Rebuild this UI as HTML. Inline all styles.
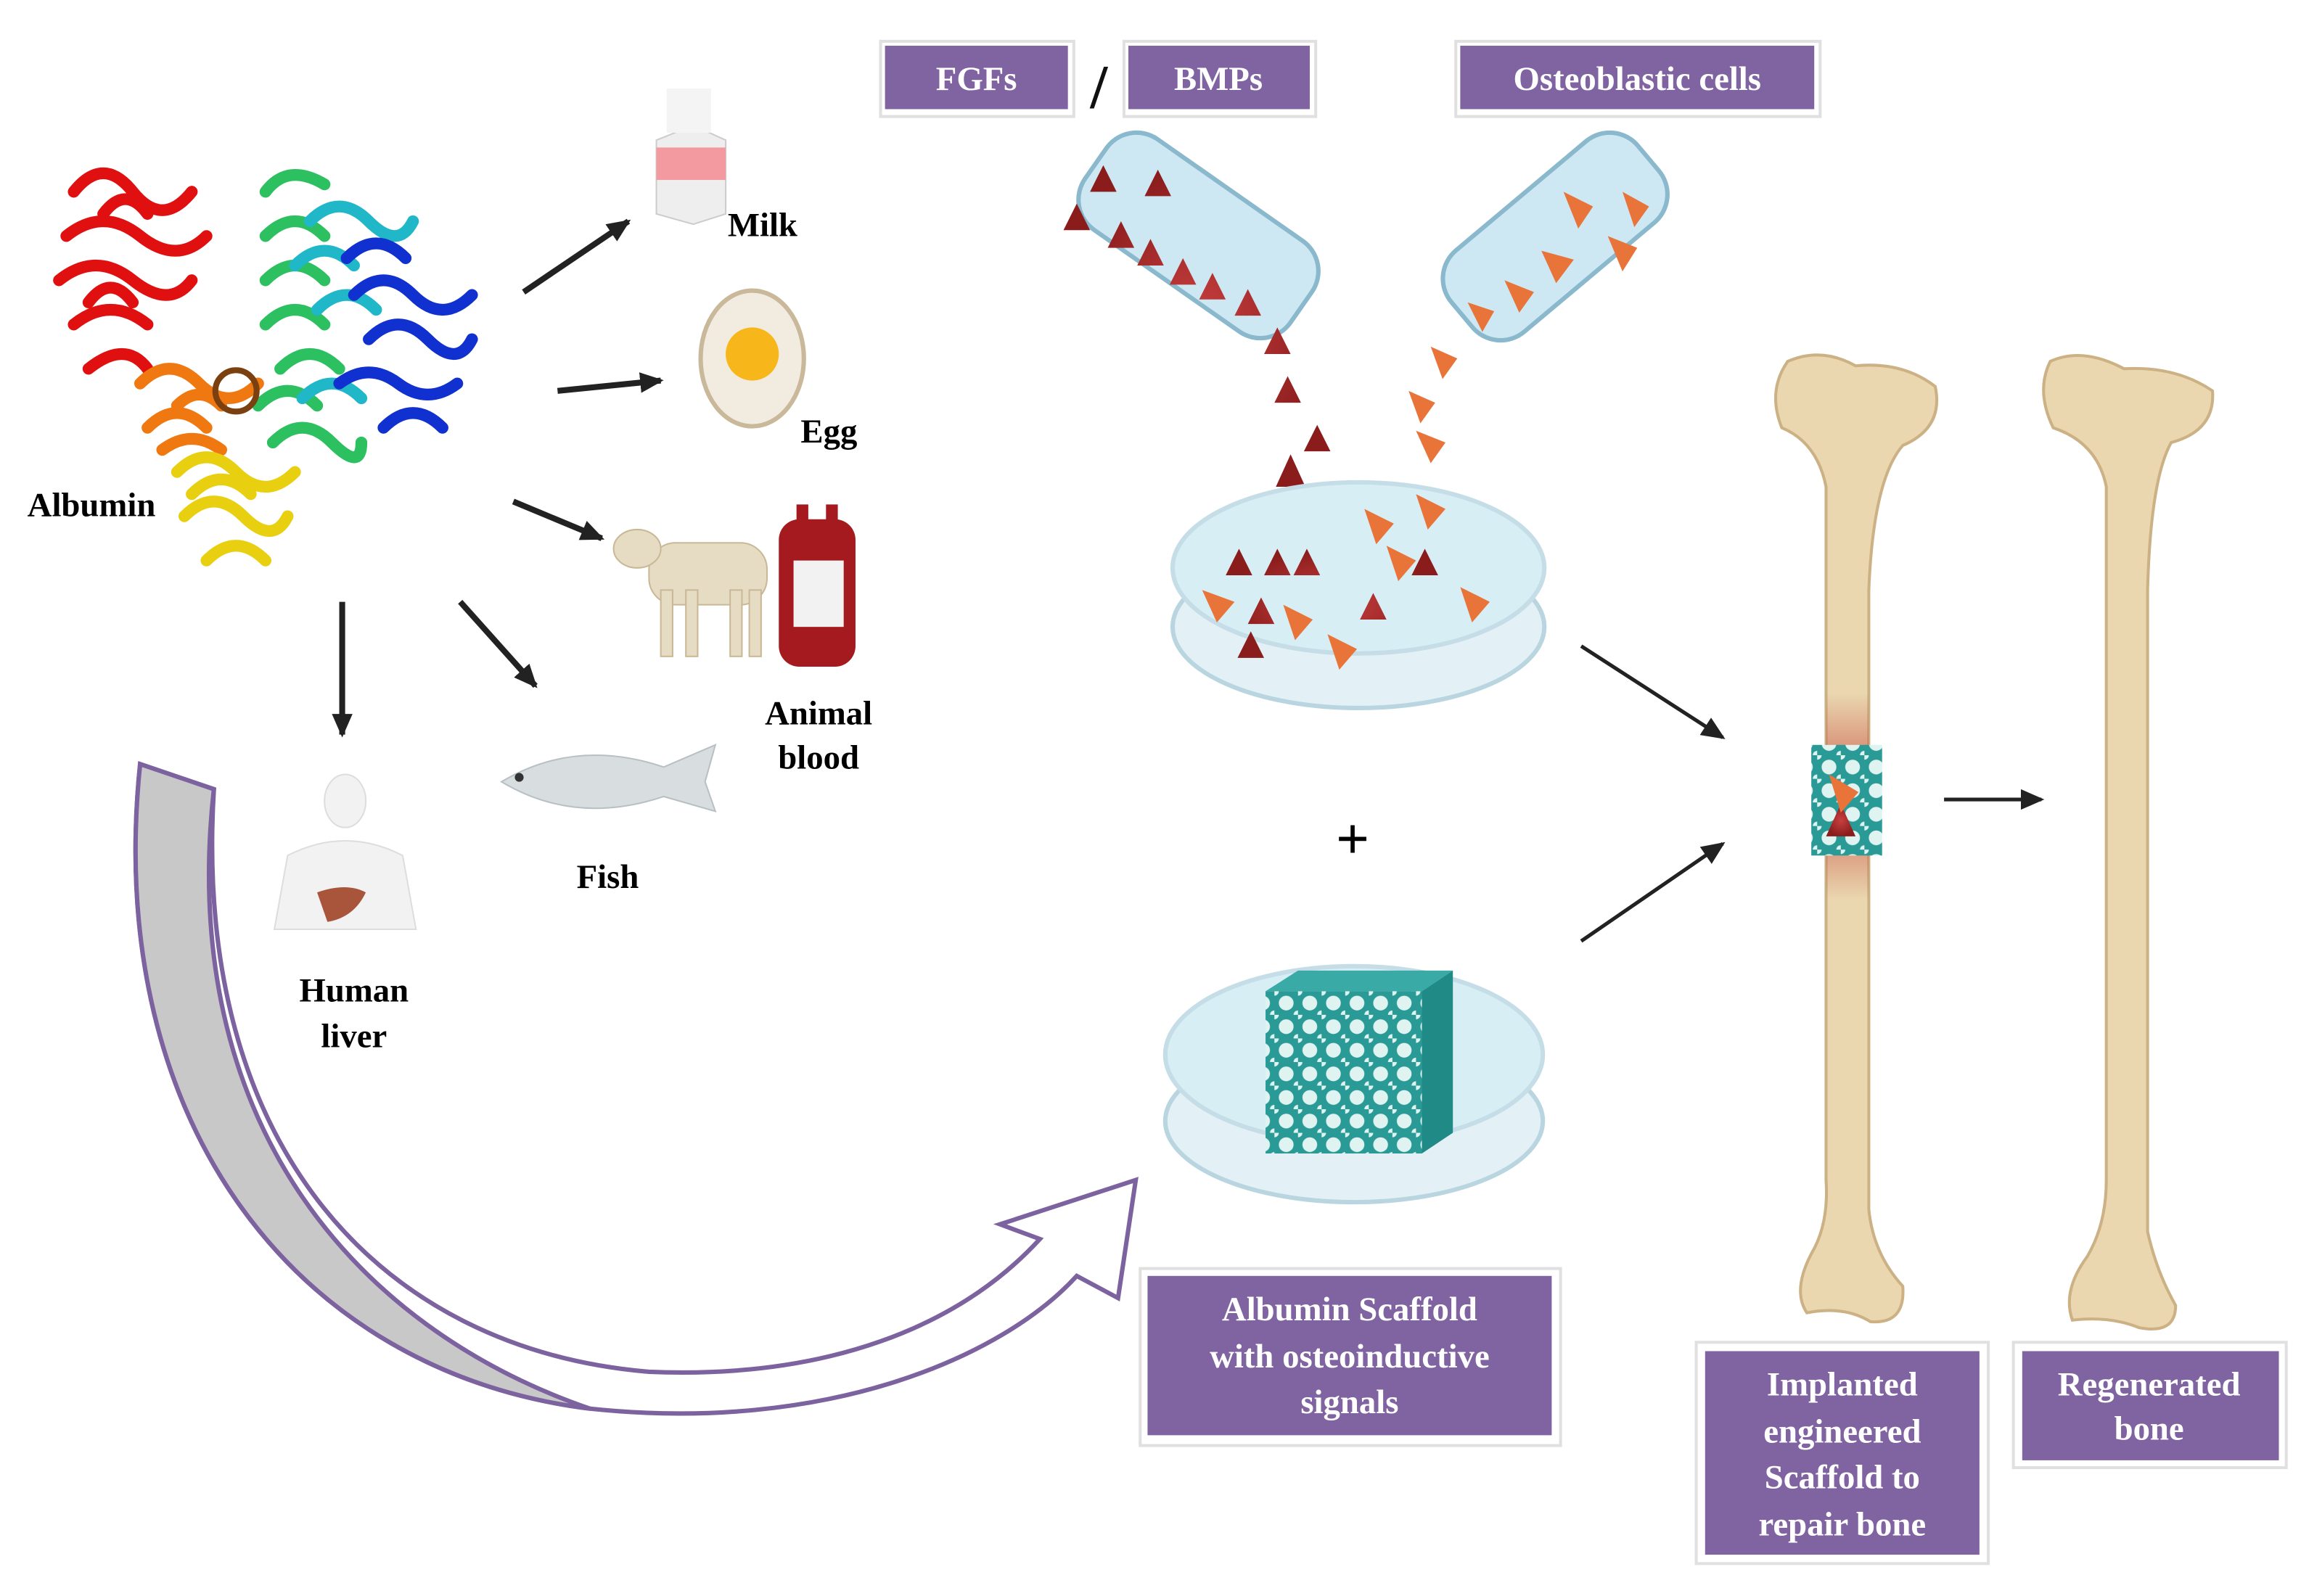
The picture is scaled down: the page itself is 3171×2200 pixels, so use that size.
<!DOCTYPE html>
<html><head><meta charset="utf-8"><style>
html,body{margin:0;padding:0;background:#fff}
svg{display:block}
text{font-family:"Liberation Serif",serif;font-weight:bold}
</style></head><body>
<svg width="3171" height="2200" viewBox="0 0 1560 1082" preserveAspectRatio="none" xmlns="http://www.w3.org/2000/svg">
<defs>
<marker id="ah2" markerWidth="16" markerHeight="14" refX="14" refY="7" orient="auto" markerUnits="userSpaceOnUse"><path d="M0,0 L16,7 L0,14 Z" fill="#222"/></marker>
<pattern id="foam" width="16" height="16" patternUnits="userSpaceOnUse"><rect width="16" height="16" fill="#2a9a96"/><circle cx="8" cy="8" r="5" fill="#dff3f1"/><circle cx="0" cy="0" r="3" fill="#dff3f1"/><circle cx="16" cy="16" r="3" fill="#dff3f1"/></pattern>
<radialGradient id="tri"><stop offset="0" stop-color="#c94040"/><stop offset="1" stop-color="#8a1c1c"/></radialGradient>
<linearGradient id="frac" x1="0" y1="0" x2="0" y2="1"><stop offset="0" stop-color="#c0322a" stop-opacity="0"/><stop offset="0.3" stop-color="#c0322a" stop-opacity="0.45"/><stop offset="0.7" stop-color="#c0322a" stop-opacity="0.45"/><stop offset="1" stop-color="#c0322a" stop-opacity="0"/></linearGradient>
</defs>

<!-- Protein blob -->
<g stroke-width="8" fill="none" stroke-linecap="round">
<path d="M50,130 q20,-25 40,0 t40,0 M45,160 q25,-20 50,0 t45,0 M40,190 q25,-20 50,0 t40,0 M50,220 q25,-20 50,0 M60,250 q25,-20 40,0 M70,145 q15,-20 30,0 M60,205 q15,-20 30,0" stroke="#e01010"/>
<path d="M95,260 q20,-20 40,0 t40,0 M100,290 q20,-20 40,0 M120,275 q15,-15 30,0 M110,305 q20,-15 40,0" stroke="#f07810"/>
<path d="M120,320 q20,-20 40,0 t40,0 M125,350 q20,-20 40,0 t30,0 M140,380 q20,-20 40,0 M130,335 q20,-20 40,0" stroke="#e8d010"/>
<path d="M180,130 q15,-20 40,-5 M180,160 q20,-20 40,0 M180,190 q20,-20 40,0 M190,250 q20,-20 40,0 M185,300 q20,-20 40,0 t20,0 M180,220 q20,-20 40,0 M175,275 q20,-20 40,0" stroke="#2cc060"/>
<path d="M210,150 q20,-20 40,0 t30,0 M215,210 q20,-20 40,0 M205,270 q20,-20 40,0 M200,180 q20,-20 40,0" stroke="#20b8c8"/>
<path d="M240,200 q20,-20 40,0 t40,0 M250,230 q20,-20 40,0 t30,0 M230,260 q20,-15 40,0 t40,0 M260,290 q20,-20 40,0 M235,175 q20,-20 40,0" stroke="#1030d0"/>
<circle cx="160" cy="265" r="14" stroke="#7a4010" stroke-width="4"/>
</g>
<text x="62" y="350" font-size="23" text-anchor="middle">Albumin</text>

<!-- Arrows left -->
<g stroke="#222" stroke-width="4">
<line x1="355" y1="198" x2="426" y2="150" marker-end="url(#ah2)"/>
<line x1="378" y1="265" x2="448" y2="258" marker-end="url(#ah2)"/>
<line x1="348" y1="340" x2="408" y2="365" marker-end="url(#ah2)"/>
<line x1="312" y1="408" x2="363" y2="465" marker-end="url(#ah2)"/>
<line x1="232" y1="408" x2="232" y2="498" marker-end="url(#ah2)"/>
</g>

<!-- Milk carton -->
<path d="M445,95 L470,85 L492,95 L492,145 L470,152 L445,145 Z" fill="#eee" stroke="#ccc"/>
<rect x="445" y="100" width="47" height="22" fill="#f29aa0"/>
<rect x="452" y="60" width="30" height="30" fill="#f4f4f4"/>
<text x="517" y="160" font-size="23" text-anchor="middle">Milk</text>
<!-- Egg -->
<ellipse cx="510" cy="243" rx="35" ry="46" fill="#f2ebe0" stroke="#c9b89a" stroke-width="3"/>
<circle cx="510" cy="240" r="18" fill="#f7b61a"/>
<text x="562" y="300" font-size="23" text-anchor="middle">Egg</text>
<!-- Calf -->
<g fill="#e6dcc4" stroke="#c8b896">
<rect x="440" y="368" width="80" height="42" rx="18"/>
<ellipse cx="432" cy="372" rx="16" ry="13"/>
<rect x="448" y="400" width="8" height="45"/><rect x="465" y="400" width="8" height="45"/><rect x="495" y="400" width="8" height="45"/><rect x="508" y="400" width="8" height="45"/>
</g>
<!-- Blood bag -->
<rect x="528" y="352" width="52" height="100" rx="14" fill="#a51a1f"/>
<rect x="538" y="380" width="34" height="45" fill="#f2f2f2"/>
<rect x="540" y="342" width="8" height="14" fill="#a51a1f"/><rect x="560" y="342" width="8" height="14" fill="#a51a1f"/>
<text x="555" y="491" font-size="23" text-anchor="middle">Animal</text>
<text x="555" y="521" font-size="23" text-anchor="middle">blood</text>
<!-- Fish -->
<path d="M340,530 Q390,500 450,520 L485,505 L478,530 L485,550 L450,540 Q390,560 340,530 Z" fill="#d8dde0" stroke="#b8c0c4"/>
<circle cx="352" cy="527" r="3" fill="#333"/>
<text x="412" y="602" font-size="23" text-anchor="middle">Fish</text>
<!-- Human -->
<g fill="#f2f2f2" stroke="#ddd">
<ellipse cx="234" cy="543" rx="14" ry="18"/>
<path d="M195,580 Q234,560 273,580 L282,630 L186,630 Z"/>
</g>
<path d="M215,605 Q235,598 248,605 Q240,622 222,625 Z" fill="#a8553b"/>
<text x="240" y="679" font-size="23" text-anchor="middle">Human</text>
<text x="240" y="710" font-size="23" text-anchor="middle">liver</text>

<!-- Big curved arrow -->
<path d="M95,518 C70,760 200,930 400,955 C560,972 680,920 730,865 L758,880 L770,800 L678,830 L705,840 C650,900 560,935 440,930 C260,915 130,780 145,535 Z" fill="#fff" stroke="#7d62a0" stroke-width="3"/>
<path d="M95,518 C70,760 200,930 400,955 C240,900 120,760 145,535 Z" fill="#c8c8c8" stroke="#7d62a0" stroke-width="3"/>

<!-- Label boxes -->
<g>
<rect x="597" y="28" width="131" height="51" fill="#fff" stroke="#e0e0e0" stroke-width="2"/>
<rect x="600" y="31" width="124" height="43" fill="#8064a2"/>
<text x="662" y="61" font-size="23" fill="#fff" text-anchor="middle">FGFs</text>
<text x="745" y="73" font-size="42" fill="#111" text-anchor="middle">/</text>
<rect x="762" y="28" width="130" height="51" fill="#fff" stroke="#e0e0e0" stroke-width="2"/>
<rect x="765" y="31" width="123" height="43" fill="#8064a2"/>
<text x="826" y="61" font-size="23" fill="#fff" text-anchor="middle">BMPs</text>
<rect x="987" y="28" width="247" height="51" fill="#fff" stroke="#e0e0e0" stroke-width="2"/>
<rect x="990" y="31" width="240" height="43" fill="#8064a2"/>
<text x="1110" y="61" font-size="23" fill="#fff" text-anchor="middle">Osteoblastic cells</text>

<rect x="773" y="860" width="285" height="120" fill="#fff" stroke="#e0e0e0" stroke-width="2"/>
<rect x="778" y="865" width="274" height="108" fill="#8064a2"/>
<text x="915" y="895" font-size="23" fill="#fff" text-anchor="middle">Albumin Scaffold</text>
<text x="915" y="927" font-size="23" fill="#fff" text-anchor="middle">with osteoinductive</text>
<text x="915" y="958" font-size="23" fill="#fff" text-anchor="middle">signals</text>

<rect x="1150" y="910" width="198" height="150" fill="#fff" stroke="#e0e0e0" stroke-width="2"/>
<rect x="1156" y="916" width="186" height="138" fill="#8064a2"/>
<text x="1249" y="946" font-size="23" fill="#fff" text-anchor="middle">Implanted</text>
<text x="1249" y="978" font-size="23" fill="#fff" text-anchor="middle">engineered</text>
<text x="1249" y="1009" font-size="23" fill="#fff" text-anchor="middle">Scaffold to</text>
<text x="1249" y="1041" font-size="23" fill="#fff" text-anchor="middle">repair bone</text>

<rect x="1365" y="910" width="185" height="85" fill="#fff" stroke="#e0e0e0" stroke-width="2"/>
<rect x="1371" y="916" width="174" height="74" fill="#8064a2"/>
<text x="1457" y="946" font-size="23" fill="#fff" text-anchor="middle">Regenerated</text>
<text x="1457" y="976" font-size="23" fill="#fff" text-anchor="middle">bone</text>
</g>

<!-- Tubes -->
<g transform="rotate(35 800 160)"><rect x="725" y="115" width="170" height="75" rx="25" fill="#cde8f2" stroke="#8ab8cc" stroke-width="3"/></g>
<g transform="rotate(-40 1055 165)"><rect x="975" y="125" width="165" height="72" rx="25" fill="#cde8f2" stroke="#8ab8cc" stroke-width="3"/></g>
<g fill="url(#tri)">
<path d="M748,112 l9,18 h-18z M785,115 l9,18 h-18z M730,138 l9,18 h-18z M760,150 l9,18 h-18z M780,162 l9,18 h-18z M802,175 l9,18 h-18z M822,185 l9,18 h-18z M846,196 l9,18 h-18z M866,222 l9,18 h-18z M873,255 l9,18 h-18z M893,288 l9,18 h-18z M875,308 l10,22 h-20z"/>
</g>
<g fill="#e8743a">
<path d="M1060,130 l20,10 -10,15z M1090,160 l20,8 -10,16z M1045,170 l22,6 -12,16z M1020,190 l20,8 -10,14z M995,205 l18,6 -8,14z M1100,130 l18,10 -10,14z M970,235 l18,8 -10,14z M955,265 l18,8 -10,14z M960,292 l20,8 -10,14z"/>
</g>

<!-- Petri top -->
<ellipse cx="921" cy="425" rx="126" ry="55" fill="#e3f1f6" stroke="#b9d6e0" stroke-width="3"/>
<ellipse cx="921" cy="385" rx="126" ry="58" fill="#d8eef5" stroke="#c5dde6" stroke-width="3"/>
<g fill="url(#tri)">
<path d="M840,372 l9,18 h-18z M866,372 l9,18 h-18z M886,372 l9,18 h-18z M966,372 l9,18 h-18z M855,405 l9,18 h-18z M931,402 l9,18 h-18z M848,428 l9,18 h-18z"/>
</g>
<g fill="#e8743a">
<path d="M925,345 l20,10 -12,14z M960,335 l20,10 -12,14z M940,370 l20,10 -12,14z M815,400 l22,8 -12,14z M870,410 l20,10 -12,14z M900,430 l20,10 -12,14z M990,398 l20,10 -12,14z"/>
</g>

<!-- Plus -->
<text x="917" y="582" font-size="40" text-anchor="middle">+</text>

<!-- Petri bottom -->
<ellipse cx="918" cy="760" rx="128" ry="55" fill="#e3f1f6" stroke="#b9d6e0" stroke-width="3"/>
<ellipse cx="918" cy="715" rx="128" ry="60" fill="#d8eef5" stroke="#c5dde6" stroke-width="3"/>
<rect x="858" y="672" width="106" height="110" fill="url(#foam)"/>
<path d="M858,672 L880,658 L985,658 L964,672 Z" fill="#3aaaa6"/>
<path d="M964,672 L985,658 L985,768 L964,782 Z" fill="#1f8a86"/>

<!-- Right arrows -->
<g stroke="#222" stroke-width="2.5">
<line x1="1072" y1="438" x2="1168" y2="500" marker-end="url(#ah2)"/>
<line x1="1072" y1="638" x2="1168" y2="572" marker-end="url(#ah2)"/>
<line x1="1318" y1="542" x2="1384" y2="542" marker-end="url(#ah2)"/>
</g>

<!-- Bones -->
<g fill="#ead7b0" stroke="#cbb184" stroke-width="2">
<path d="M1212,245 Q1235,235 1258,248 Q1290,245 1312,262 Q1318,290 1290,302 Q1270,325 1267,400 L1267,820 Q1270,850 1290,872 Q1292,898 1268,896 Q1250,885 1225,890 Q1215,875 1228,850 Q1240,830 1238,800 L1238,330 Q1232,300 1208,290 Q1198,265 1212,245 Z"/>
<path d="M1390,245 Q1412,235 1440,250 Q1475,248 1500,265 Q1502,292 1472,300 Q1458,325 1456,400 L1456,835 Q1462,862 1475,885 Q1475,905 1450,900 Q1430,892 1405,895 Q1398,875 1415,852 Q1428,830 1428,800 L1428,330 Q1422,300 1392,290 Q1380,265 1390,245 Z"/>
</g>
<rect x="1238" y="470" width="29" height="140" fill="url(#frac)"/>
<rect x="1228" y="505" width="48" height="75" fill="url(#foam)"/>
<path d="M1248,545 l10,22 h-20z" fill="url(#tri)"/>
<path d="M1240,525 l20,12 -12,14z" fill="#e8743a"/>
</svg>
</body></html>
